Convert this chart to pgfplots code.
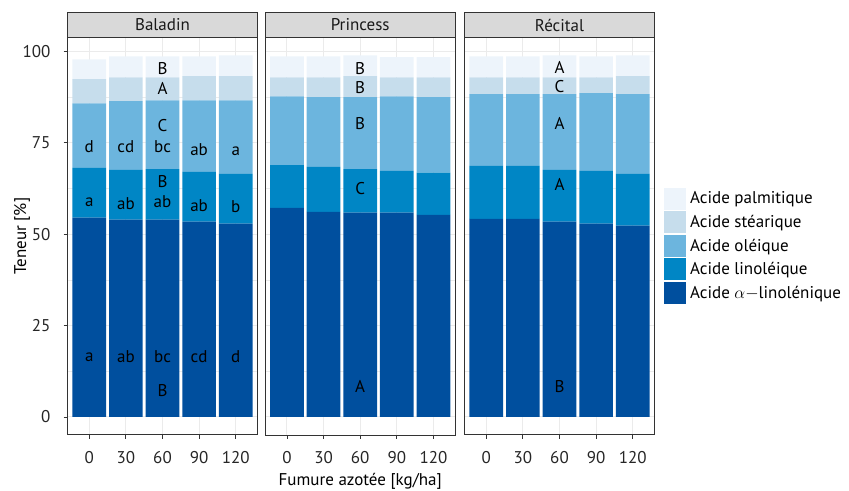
\documentclass[border=0pt]{standalone}
\usepackage{pgfplots}
\pgfplotsset{compat=1.18}
\usepackage{pgfplotstable}
\usepackage{fontspec}
\setmainfont{PT Sans}
\definecolor{cpal}{HTML}{EDF4FB}
\definecolor{cste}{HTML}{C6DDEC}
\definecolor{cole}{HTML}{6CB5DE}
\definecolor{clin}{HTML}{0086C5}
\definecolor{calp}{HTML}{004F9E}
\definecolor{framec}{HTML}{333333}
\definecolor{stripc}{HTML}{D9D9D9}
\definecolor{gridc}{HTML}{EBEBEB}

\pgfplotstableread{
x a l o s p
1 54.5 13.6 17.7 6.6 5.4
2 54.0 13.6 18.8 6.5 5.7
3 54.0 13.8 18.8 6.3 5.7
4 53.4 13.6 19.6 6.6 5.4
5 52.9 13.6 20.1 6.6 5.7
}\baladin
\pgfplotstableread{
x a l o s p
1 57.2 11.7 18.8 5.2 5.7
2 56.1 12.3 19.1 5.4 5.7
3 55.9 11.9 19.7 5.7 5.7
4 55.9 11.4 20.4 5.2 5.5
5 55.3 11.5 20.7 5.4 5.5
}\princess
\pgfplotstableread{
x a l o s p
1 54.2 14.5 19.6 4.6 5.7
2 54.2 14.5 19.6 4.6 5.7
3 53.4 14.2 20.7 4.6 6.0
4 52.9 14.4 21.3 4.3 5.7
5 52.3 14.2 21.8 4.9 5.7
}\recital

\newcommand{\fs}{\fontsize{17bp}{20bp}\selectfont}

\pgfplotsset{
 panel/.style={
  scale only axis, width=190.4bp, height=397.7bp, anchor=south west,
  xmin=0.4, xmax=5.6, ymin=-4.945, ymax=103.845,
  ybar stacked, bar width=0.92,
  xtick={1,2,3,4,5}, xticklabels={0,30,60,90,120},
  ytick={0,25,50,75,100}, minor ytick={12.5,37.5,62.5,87.5},
  xmajorgrids, ymajorgrids, yminorgrids,
  major grid style={gridc, line width=1bp},
  minor grid style={gridc, line width=0.5bp},
  axis line style={framec, line width=1bp},
  tick align=outside, tick pos=left, major tick length=3.7bp, minor tick length=0pt,
  tick style={framec, line width=0.8bp},
  xticklabel style={font=\fs, text=black!85, anchor=base, inner sep=0pt, yshift=-25bp},
  yticklabel style={font=\fs, text=black!85, anchor=east, inner sep=0pt, xshift=-13bp},
  /pgf/number format/assume math mode=true,
  clip=false,
  every axis plot/.append style={draw=none},
  every axis x label/.style={at={(axis description cs:0.5,0)}, anchor=base, yshift=-50.5bp, font=\fs},
  every axis y label/.style={at={(axis description cs:0,0.5)}, anchor=center, rotate=90, yshift=45.3bp, font=\fs},
 },
}
\tikzset{lab/.style={font=\fs, text=black, inner sep=0pt}}

\newcommand{\strip}[2]{%
  \draw[framec, fill=stripc, line width=1bp] (#1.north west) rectangle ([yshift=24.6bp]#1.north east);
  \node[font=\fs, text=black!90, inner sep=0pt] at ([yshift=12.3bp]#1.north) {#2};
}

\begin{document}
\begin{tikzpicture}
\useasboundingbox (0,0) rectangle (849bp,491bp);

% Baladin
\begin{axis}[panel, name=p1, at={(67.3bp,56bp)}, ylabel={Teneur [\%]}]
\addplot[fill=calp] table[x=x, y=a]{\baladin};
\addplot[fill=clin] table[x=x, y=l]{\baladin};
\addplot[fill=cole] table[x=x, y=o]{\baladin};
\addplot[fill=cste] table[x=x, y=s]{\baladin};
\addplot[fill=cpal] table[x=x, y=p]{\baladin};
\coordinate (ba1) at (axis cs:1,16.4);
\coordinate (ba2) at (axis cs:2,16.4);
\coordinate (ba3) at (axis cs:3,16.4);
\coordinate (ba4) at (axis cs:4,16.4);
\coordinate (ba5) at (axis cs:5,16.4);
\coordinate (baB) at (axis cs:3,7.3);
\coordinate (bl1) at (axis cs:1,58.7);
\coordinate (bl2) at (axis cs:2,58.4);
\coordinate (bl3) at (axis cs:3,58.8);
\coordinate (bl4) at (axis cs:4,57.9);
\coordinate (bl5) at (axis cs:5,57.6);
\coordinate (blB) at (axis cs:3,64.3);
\coordinate (bo1) at (axis cs:1,73.9);
\coordinate (bo2) at (axis cs:2,73.9);
\coordinate (bo3) at (axis cs:3,73.9);
\coordinate (bo4) at (axis cs:4,73.2);
\coordinate (bo5) at (axis cs:5,72.6);
\coordinate (boC) at (axis cs:3,79.6);
\coordinate (bsA) at (axis cs:3,89.9);
\coordinate (bpB) at (axis cs:3,95.4);
\end{axis}
\strip{p1}{Baladin}
\node[lab] at (ba1) {a};
\node[lab] at (ba2) {ab};
\node[lab] at (ba3) {bc};
\node[lab] at (ba4) {cd};
\node[lab] at (ba5) {d};
\node[lab] at (baB) {B};
\node[lab] at (bl1) {a};
\node[lab] at (bl2) {ab};
\node[lab] at (bl3) {ab};
\node[lab] at (bl4) {ab};
\node[lab] at (bl5) {b};
\node[lab] at (blB) {B};
\node[lab] at (bo1) {d};
\node[lab] at (bo2) {cd};
\node[lab] at (bo3) {bc};
\node[lab] at (bo4) {ab};
\node[lab] at (bo5) {a};
\node[lab] at (boC) {C};
\node[lab] at (bsA) {A};
\node[lab] at (bpB) {B};

% Princess
\begin{axis}[panel, name=p2, at={(265bp,56bp)}, yticklabels={}, every y tick/.style={draw=none},
  xlabel={Fumure azotée [kg/ha]}]
\addplot[fill=calp] table[x=x, y=a]{\princess};
\addplot[fill=clin] table[x=x, y=l]{\princess};
\addplot[fill=cole] table[x=x, y=o]{\princess};
\addplot[fill=cste] table[x=x, y=s]{\princess};
\addplot[fill=cpal] table[x=x, y=p]{\princess};
\coordinate (pp) at (axis cs:3,95.4);
\coordinate (ps) at (axis cs:3,90.0);
\coordinate (po) at (axis cs:3,80.3);
\coordinate (pl) at (axis cs:3,62.6);
\coordinate (pa) at (axis cs:3,8.2);
\end{axis}
\strip{p2}{Princess}
\node[lab] at (pp) {B};
\node[lab] at (ps) {B};
\node[lab] at (po) {B};
\node[lab] at (pl) {C};
\node[lab] at (pa) {A};

% Recital
\begin{axis}[panel, name=p3, at={(464.3bp,56bp)}, yticklabels={}, every y tick/.style={draw=none},
  reverse legend,
  legend style={at={(rel axis cs:1,0.476)}, anchor=west, xshift=9.3bp, draw=none, fill=none,
    inner sep=0pt, row sep=1.8bp, column sep=4.3bp, font=\fs, cells={anchor=west},
    nodes={inner sep=0pt}},
  legend image code/.code={\fill[#1] (0bp,-10.85bp) rectangle (21.7bp,10.85bp);}]
\addplot[fill=calp] table[x=x, y=a]{\recital};
\addlegendentry{Acide $\alpha{-}$linolénique}
\addplot[fill=clin] table[x=x, y=l]{\recital};
\addlegendentry{Acide linoléique}
\addplot[fill=cole] table[x=x, y=o]{\recital};
\addlegendentry{Acide oléique}
\addplot[fill=cste] table[x=x, y=s]{\recital};
\addlegendentry{Acide stéarique}
\addplot[fill=cpal] table[x=x, y=p]{\recital};
\addlegendentry{Acide palmitique}
\coordinate (rp) at (axis cs:3,95.7);
\coordinate (rs) at (axis cs:3,90.4);
\coordinate (ro) at (axis cs:3,80.2);
\coordinate (rl) at (axis cs:3,63.5);
\coordinate (ra) at (axis cs:3,8.2);
\end{axis}
\strip{p3}{Récital}
\node[lab] at (rp) {A};
\node[lab] at (rs) {C};
\node[lab] at (ro) {A};
\node[lab] at (rl) {A};
\node[lab] at (ra) {B};
\end{tikzpicture}
\end{document}
